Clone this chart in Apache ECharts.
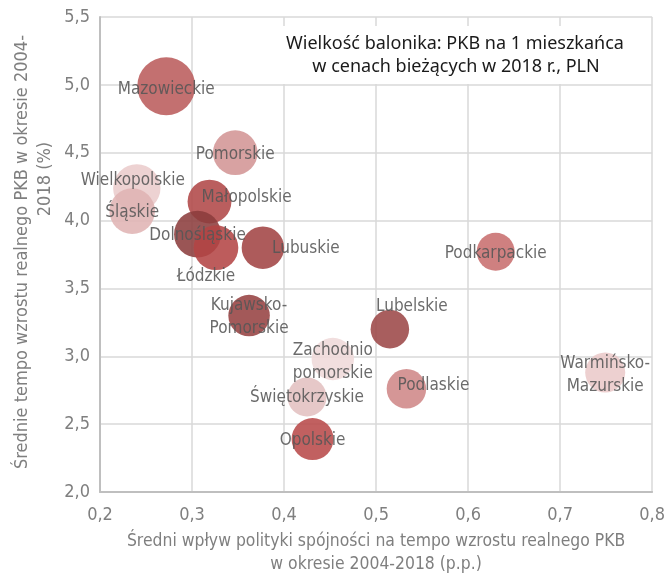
<!DOCTYPE html>
<html style="height: 100%">
<head>
<meta charset="utf-8">
<script src="https://cdn.jsdelivr.net/npm/echarts@6/dist/echarts.min.js"></script>
</head>
<body style="height: 100%; margin: 0; background: #fff">
<div id="container" style="width: 668px; height: 581px;"></div>
<script type="text/javascript">
// dane
var regiony = ['Mazowieckie', 'Pomorskie', 'Wielkopolskie', 'Śląskie', 'Małopolskie',
	'Dolnośląskie', 'Łódzkie', 'Lubuskie', 'Kujawsko-\nPomorskie', 'Lubelskie',
	'Zachodnio\npomorskie', 'Świętokrzyskie', 'Opolskie', 'Podlaskie', 'Podkarpackie',
	'Warmińsko-\nMazurskie'];
// średni wpływ polityki spójności (p.p.)
var wplyw = [0.272, 0.347, 0.240, 0.235, 0.319, 0.306, 0.326, 0.377, 0.362, 0.515,
	0.453, 0.425, 0.431, 0.533, 0.630, 0.749];
// średnie tempo wzrostu PKB 2004-2018 (%)
var tempo = [4.99, 4.50, 4.24, 4.07, 4.14, 3.90, 3.80, 3.80, 3.30, 3.20,
	2.98, 2.70, 2.39, 2.76, 3.77, 2.88];
// PKB na 1 mieszkańca 2018, PLN
var pkb = [84000, 50000, 56000, 52000, 48000, 55000, 50000, 45000, 43000, 37000,
	45000, 38000, 44000, 39000, 36000, 40000];
var xTicks = [0.2, 0.3, 0.4, 0.5, 0.6, 0.7, 0.8];
var yTicks = [2.0, 2.5, 3.0, 3.5, 4.0, 4.5, 5.0, 5.5];

// wygląd
var kolory = ['#bb5c5c', '#d39595', '#ebcccc', '#e0b4b4', '#b04848', '#8c3e3e', '#b44646',
	'#a24444', '#964242', '#9c4848', '#efdada', '#e2c0c0', '#b84a4a', '#cf8888',
	'#c86e6e', '#ebcaca'];
var przesuniecia = [[0, 3], [0, 2], [-4, -7], [0, 2], [37, -4], [0, 1], [-10, 29], [43, 1],
	[0, 2], [22, -23], [0, 3], [0, 1], [0, 2], [27, -3], [0, 2], [0, 3]];
var FONT = '"Liberation Sans Narrow", "DejaVu Sans Condensed", sans-serif';
var szary = '#575757';

function przecinek(v) { return v.toFixed(1).replace('.', ','); }

var dane = [];
for (var i = 0; i < regiony.length; i++) {
	dane.push({
		name: regiony[i],
		value: [wplyw[i], tempo[i], pkb[i]],
		itemStyle: { color: kolory[i], opacity: 0.88 }
	});
}

var myChart = echarts.init(document.getElementById('container'));
var option = {
	animation: false,
	grid: { left: 100, right: 13, top: 17, bottom: 88, containLabel: false },
	xAxis: {
		type: 'value', min: 0.2, max: 0.8, interval: 0.1,
		axisLine: { show: true, lineStyle: { color: '#bfbfbf', width: 2 } },
		axisTick: { show: false },
		splitLine: { lineStyle: { color: '#d9d9d9', width: 1.5 } },
		axisLabel: { color: '#7f7f7f', fontSize: 18, fontFamily: FONT, margin: 14,
			formatter: przecinek },
		name: 'Średni wpływ polityki spójności na tempo wzrostu realnego PKB\nw okresie 2004-2018 (p.p.)',
		nameLocation: 'middle', nameGap: 38,
		nameTextStyle: { color: '#7f7f7f', fontSize: 17.4, fontFamily: FONT, lineHeight: 23 }
	},
	yAxis: {
		type: 'value', min: 2.0, max: 5.5, interval: 0.5,
		axisLine: { show: true, lineStyle: { color: '#bfbfbf', width: 2 } },
		axisTick: { show: false },
		splitLine: { lineStyle: { color: '#d9d9d9', width: 1.5 } },
		axisLabel: { color: '#7f7f7f', fontSize: 18, fontFamily: FONT, margin: 10,
			formatter: przecinek }
	},
	graphic: [
		{ type: 'rect', left: 265, top: 26, shape: { width: 380, height: 58 },
			style: { fill: '#ffffff' }, z: 10 },
		{ type: 'text', x: 455, y: 44, z: 11,
			style: { text: 'Wielkość balonika: PKB na 1 mieszkańca', fill: '#1a1a1a',
				font: '18px "Noto Sans", sans-serif', textAlign: 'center', textVerticalAlign: 'middle' } },
		{ type: 'text', x: 456, y: 67, z: 11,
			style: { text: 'w cenach bieżących w 2018 r., PLN', fill: '#1a1a1a',
				font: '18px "Noto Sans", sans-serif', textAlign: 'center', textVerticalAlign: 'middle' } },
		{ type: 'text', x: 22, y: 252, rotation: Math.PI / 2, z: 11,
			style: { text: 'Średnie tempo wzrostu realnego PKB w okresie 2004-', fill: '#7f7f7f',
				font: '18px ' + FONT, textAlign: 'center', textVerticalAlign: 'middle' } },
		{ type: 'text', x: 45, y: 179, rotation: Math.PI / 2, z: 11,
			style: { text: '2018 (%)', fill: '#7f7f7f',
				font: '18px ' + FONT, textAlign: 'center', textVerticalAlign: 'middle' } }
	],
	series: [{
		type: 'scatter',
		data: dane,
		symbolSize: function (v) { return 6.33 * Math.sqrt(v[2] / 1000); },
		label: {
			show: true, position: 'inside', formatter: '{b}',
			color: szary, fontSize: 17, fontFamily: FONT, lineHeight: 23
		},
		labelLayout: function (p) {
			var o = przesuniecia[p.dataIndex];
			return { dx: o[0], dy: o[1], hideOverlap: false };
		},
		emphasis: { disabled: true },
		z: 5
	}]
};
myChart.setOption(option);
</script>
</body>
</html>
